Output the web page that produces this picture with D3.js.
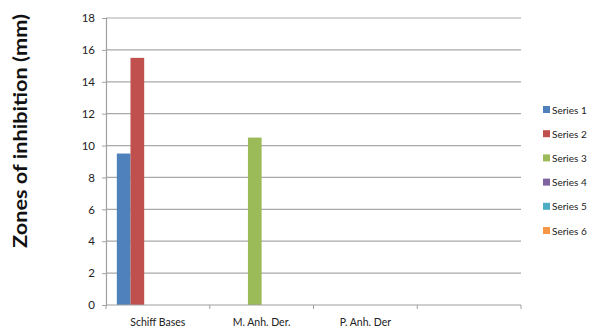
<!DOCTYPE html>
<html>
<head>
<meta charset="utf-8">
<script src="https://cdn.jsdelivr.net/npm/d3@7"></script>
<style>
  html, body { margin: 0; padding: 0; background: #fff; }
  svg { display: block; font-family: Lato, "Open Sans", sans-serif; }
</style>
</head>
<body>
<svg id="chart" width="595" height="330"></svg>
<script>
const categories = ["Schiff Bases", "M. Anh. Der.", "P. Anh. Der", ""];
const seriesNames = ["Series 1", "Series 2", "Series 3", "Series 4", "Series 5", "Series 6"];
const series1 = [9.5, null, null, null];
const series2 = [15.5, null, null, null];
const series3 = [null, 10.5, null, null];
const series4 = [null, null, null, null];
const series5 = [null, null, null, null];
const series6 = [null, null, null, null];
const seriesColors = ["#4F81BD", "#C0504D", "#9BBB59", "#8064A2", "#4BACC6", "#F79646"];
const yTicks = [0, 2, 4, 6, 8, 10, 12, 14, 16, 18];
const yTitle = "Zones of inhibition  (mm)";

const allSeries = [series1, series2, series3, series4, series5, series6];

const svg = d3.select("#chart");
const margin = { left: 106, right: 74, top: 18, bottom: 25 };
const W = 595, H = 330;
const x0 = margin.left, x1 = W - margin.right;
const y0 = H - margin.bottom, y1 = margin.top;

const x = d3.scaleBand().domain(categories.map((d, i) => i)).range([x0, x1]).paddingInner(0).paddingOuter(0);
const xs = d3.scaleBand().domain(d3.range(allSeries.length)).range([0, x.bandwidth()]).paddingOuter(0.79).paddingInner(0);
const y = d3.scaleLinear().domain([0, 18]).range([y0, y1]);

// horizontal gridlines
svg.append("g").selectAll("line").data(yTicks.filter(d => d > 0)).join("line")
  .attr("x1", x0).attr("x2", x1)
  .attr("y1", d => y(d)).attr("y2", d => y(d))
  .attr("stroke", "#a8a8a8").attr("stroke-width", 1.2);

// bars
const bars = [];
allSeries.forEach((s, si) => s.forEach((v, ci) => { if (v != null) bars.push({ si, ci, v }); }));
svg.append("g").selectAll("rect").data(bars).join("rect")
  .attr("x", d => x(d.ci) + xs(d.si))
  .attr("width", xs.bandwidth())
  .attr("y", d => y(d.v))
  .attr("height", d => y(0) - y(d.v))
  .attr("fill", d => seriesColors[d.si]);

// y axis
const yAxis = svg.append("g").attr("transform", `translate(${x0},0)`)
  .call(d3.axisLeft(y).tickValues(yTicks).tickSize(4).tickPadding(7));
yAxis.select(".domain").attr("stroke", "#a0a0a0").attr("stroke-width", 1.2);
yAxis.selectAll(".tick line").attr("stroke", "#a0a0a0");
yAxis.selectAll(".tick text").attr("font-size", 11.5).attr("fill", "#222").attr("font-family", "Lato, sans-serif");

// x axis
const xAxis = svg.append("g").attr("transform", `translate(0,${y0})`);
xAxis.append("line").attr("x1", x0).attr("x2", x1).attr("y1", 0).attr("y2", 0)
  .attr("stroke", "#a0a0a0").attr("stroke-width", 1.2);
xAxis.selectAll("line.tk").data(d3.range(categories.length + 1)).join("line").attr("class", "tk")
  .attr("x1", i => x0 + i * x.bandwidth()).attr("x2", i => x0 + i * x.bandwidth())
  .attr("y1", 0).attr("y2", 4).attr("stroke", "#a0a0a0");
xAxis.selectAll("text").data(categories).join("text")
  .attr("x", (d, i) => x(i) + x.bandwidth() / 2)
  .attr("y", 21)
  .attr("text-anchor", "middle")
  .attr("font-size", 10.5).attr("fill", "#222")
  .text(d => d);

// y title
svg.append("text")
  .attr("transform", `translate(27,${131}) rotate(-90)`)
  .attr("text-anchor", "middle")
  .attr("font-size", 19).attr("font-weight", "bold").attr("fill", "#111")
  .attr("textLength", 234).attr("lengthAdjust", "spacingAndGlyphs")
  .text(yTitle);

// legend
const legend = svg.append("g").attr("transform", "translate(543,110)");
const li = legend.selectAll("g").data(seriesNames).join("g")
  .attr("transform", (d, i) => `translate(0,${i * 24.2})`);
li.append("rect").attr("x", 0).attr("y", -4).attr("width", 7).attr("height", 7)
  .attr("fill", (d, i) => seriesColors[i]);
li.append("text").attr("x", 9).attr("y", 3.5).attr("font-size", 10).attr("fill", "#222").text(d => d);
</script>
</body>
</html>
